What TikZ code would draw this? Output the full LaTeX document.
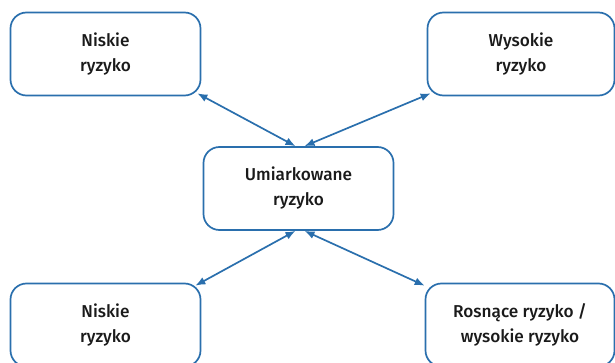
\documentclass[tikz,border=0pt]{standalone}
\usepackage{fontspec}
\setmainfont{Fira Sans Medium}
\usetikzlibrary{arrows.meta}
\definecolor{riskblue}{HTML}{2A6FAD}
\definecolor{risktext}{HTML}{1A1A1A}

\begin{document}
\begin{tikzpicture}[x=1pt,y=-1pt,
  riskbox/.style={draw=riskblue, line width=1.7pt, rounded corners=16pt, align=center,
    text=risktext, minimum width=190pt, minimum height=83pt, font=\fontsize{17.2}{25}\selectfont},
  link/.style={riskblue, line width=1.7pt, {Latex[length=10pt,width=8pt]}-{Latex[length=10pt,width=8pt]}}]

\useasboundingbox (0,0) rectangle (615,363);
\clip (0,0) rectangle (615,363);

\node [riskbox] (lowtop) at (105.5,54) {Niskie\\ryzyko};
\node [riskbox, minimum width=187pt] (hightop) at (521,54) {Wysokie\\ryzyko};
\node [riskbox] (moderate) at (298.5,188.5) {Umiarkowane\\ryzyko};
\node [riskbox] (lowbottom) at (105.5,325) {Niskie\\ryzyko};
\node [riskbox, minimum width=189pt] (rising) at (520,325) {Rosnące ryzyko /\\wysokie ryzyko};

\draw [link] ([shift={(-4,-3)}]lowtop.south east) -- ([xshift=-3pt]moderate.north);
\draw [link] ([shift={(4,-3)}]hightop.south west) -- ([xshift=6pt]moderate.north);
\draw [link] ([xshift=-3pt]moderate.south) -- ([shift={(-6,3)}]lowbottom.north east);
\draw [link] ([xshift=6pt]moderate.south) -- ([shift={(0,3)}]rising.north west);

\end{tikzpicture}
\end{document}
